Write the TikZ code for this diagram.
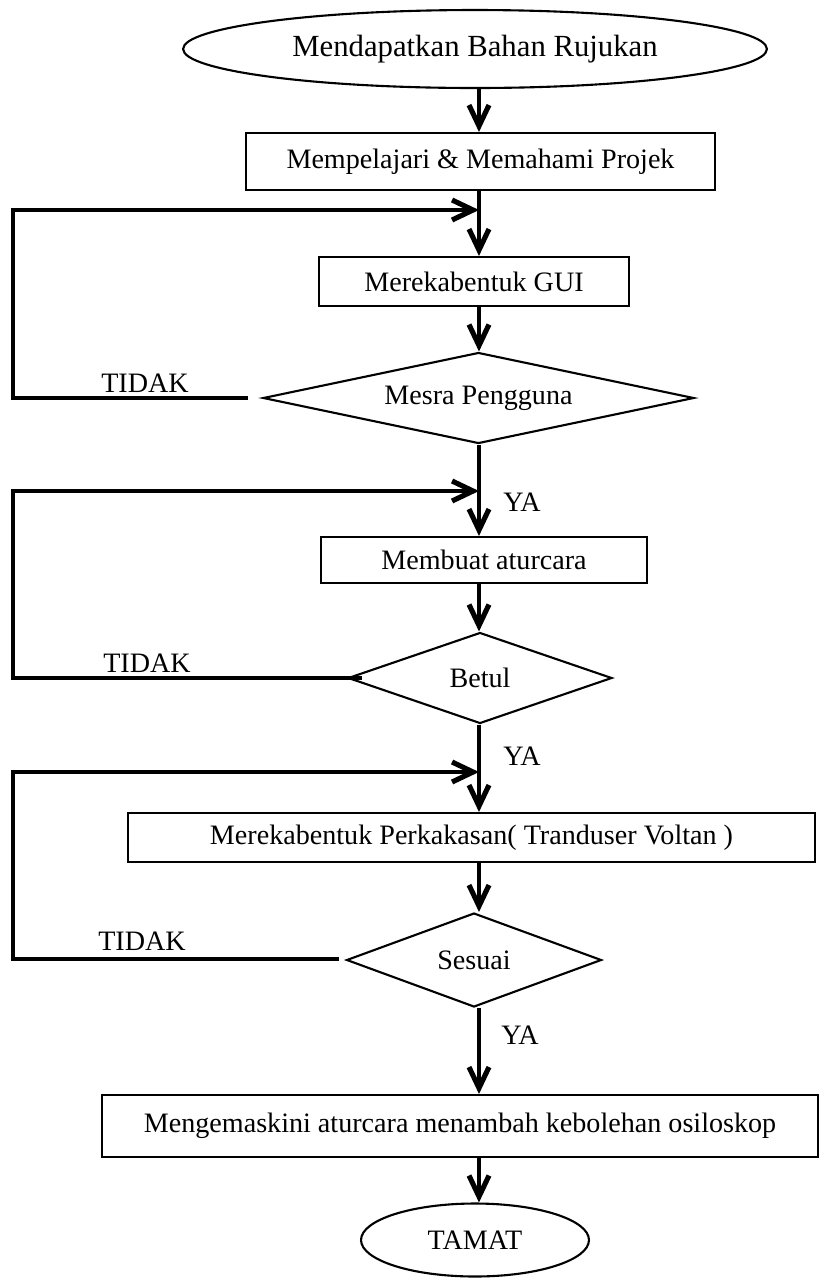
\documentclass[tikz,border=0pt]{standalone}
\usepackage{fontspec}
\setmainfont{Liberation Serif}
\usetikzlibrary{shapes.geometric,arrows.meta}
\begin{document}
\begin{tikzpicture}[x=0.02cm,y=-0.02cm,
  every node/.style={font=\fontsize{16}{19}\selectfont, inner sep=0pt},
  boxnode/.style={draw, line width=1.2pt, rectangle},
  ovalnode/.style={draw, line width=1.2pt, ellipse},
  decnode/.style={draw, line width=1.2pt, diamond},
  tipshape/.style={-{Straight Barb[length=0.42cm,width=0.4cm,line width=2.9pt]}},
  flow/.style={line width=2.5pt, tipshape},
  back/.style={line width=2.5pt, line join=miter, tipshape},
  lbl/.style={font=\fontsize{16}{19}\selectfont}]
\useasboundingbox (0,0) rectangle (824,1279);
\fill[white] (0,0) rectangle (824,1279);

\node[ovalnode, minimum width=11.68cm, minimum height=1.56cm, font=\fontsize{17.5}{21}\selectfont] (start) at (475,49) {Mendapatkan Bahan Rujukan};
\node[boxnode, minimum width=9.38cm, minimum height=1.14cm] (p1) at (480.5,161.5) {Mempelajari \& Memahami Projek};
\node[boxnode, minimum width=6.2cm, minimum height=0.98cm] (gui) at (474,281.5) {Merekabentuk GUI};
\node[decnode, aspect=4.74, minimum width=8.62cm, minimum height=1.82cm] (d1) at (478.5,398) {Mesra Pengguna};
\node[boxnode, minimum width=6.52cm, minimum height=0.92cm] (ma) at (484,560) {Membuat aturcara};
\node[decnode, aspect=2.9, minimum width=5.28cm, minimum height=1.82cm] (d2) at (480,678) {Betul};
\node[boxnode, minimum width=13.74cm, minimum height=0.98cm] (hw) at (471.5,837.5) {Merekabentuk Perkakasan( Tranduser Voltan )};
\node[decnode, aspect=2.71, minimum width=5.1cm, minimum height=1.88cm] (d3) at (474,960) {Sesuai};
\node[boxnode, minimum width=14.32cm, minimum height=1.24cm] (up) at (460,1126) {Mengemaskini aturcara menambah kebolehan osiloskop};
\node[ovalnode, minimum width=4.56cm, minimum height=1.46cm] (end) at (475,1240) {TAMAT};

\coordinate (col) at (479,0);
\coordinate (lx) at (13,0);
\coordinate (j1) at (479,210);
\coordinate (j2) at (479,491);
\coordinate (j3) at (479,772);
\coordinate (t1) at (248,398);
\coordinate (t2) at (362,678);
\coordinate (t3) at (339,959);

\draw[flow] (start.south -| col) -- (p1.north -| col);
\draw[flow] (p1.south -| col) -- (gui.north -| col);
\draw[flow] (gui.south -| col) -- (d1.north -| col);
\draw[flow] (d1.south -| col) -- (ma.north -| col);
\draw[flow] (ma.south -| col) -- (d2.north -| col);
\draw[flow] (d2.south -| col) -- (hw.north -| col);
\draw[flow] (hw.south -| col) -- (d3.north -| col);
\draw[flow] (d3.south -| col) -- (up.north -| col);
\draw[flow] (up.south -| col) -- (end.north -| col);

\draw[back] (t1) -- (t1 -| lx) -- (j1 -| lx) -- (j1);
\draw[back] (t2) -- (t2 -| lx) -- (j2 -| lx) -- (j2);
\draw[back] (t3) -- (t3 -| lx) -- (j3 -| lx) -- (j3);

\node[lbl, anchor=base] (n1) at (145,392) {TIDAK};
\node[lbl, anchor=base] (n2) at (147,672) {TIDAK};
\node[lbl, anchor=base] (n3) at (142,950) {TIDAK};
\node[lbl] (y1) at (522,502) {YA};
\node[lbl] (y2) at (522,756) {YA};
\node[lbl] (y3) at (520,1035) {YA};
\end{tikzpicture}
\end{document}
